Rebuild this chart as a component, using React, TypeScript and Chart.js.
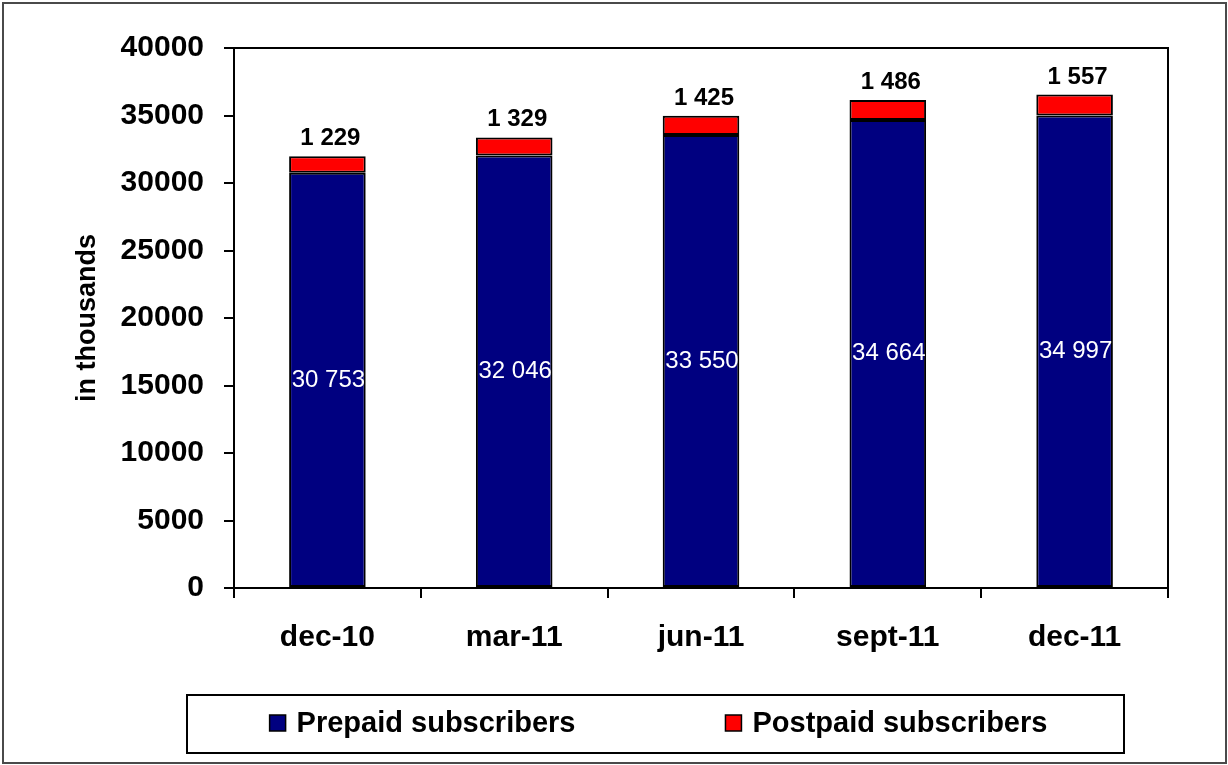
import React, { useEffect, useRef } from "react";
import { Chart, registerables } from "chart.js";

Chart.register(...registerables);

const categories = ["dec-10", "mar-11", "jun-11", "sept-11", "dec-11"];
const prepaid = [30753, 32046, 33550, 34664, 34997];
const postpaid = [1229, 1329, 1425, 1486, 1557];
const seriesNames = ["Prepaid subscribers", "Postpaid subscribers"];
const seriesColors = ["#000080", "#FF0000"];
const yMin = 0;
const yMax = 40000;
const yStep = 5000;

const FONT = "'Liberation Sans', Arial, Helvetica, sans-serif";

const fmt = (v: number) => {
  const s = String(Math.round(v));
  return s.replace(/\B(?=(\d{3})+(?!\d))/g, " ");
};

const decorPlugin = {
  id: "decor",
  afterDraw(chart: any) {
    const ctx = chart.ctx;
    const ca = chart.chartArea;
    ctx.save();
    // outer border
    ctx.strokeStyle = "#4a4a4a";
    ctx.lineWidth = 2;
    ctx.strokeRect(3, 3, chart.width - 5, chart.height - 5);
    // plot border top and right
    ctx.strokeStyle = "#000";
    ctx.lineWidth = 2;
    ctx.beginPath();
    ctx.moveTo(ca.left, ca.top);
    ctx.lineTo(ca.right, ca.top);
    ctx.lineTo(ca.right, ca.bottom);
    ctx.stroke();

    // data labels
    const m0 = chart.getDatasetMeta(0);
    const m1 = chart.getDatasetMeta(1);
    ctx.textAlign = "center";
    ctx.font = `24px ${FONT}`;
    ctx.fillStyle = "#fff";
    ctx.textBaseline = "middle";
    m0.data.forEach((bar: any, i: number) => {
      const yc = (bar.y + bar.base) / 2;
      ctx.fillText(fmt(chart.data.datasets[0].data[i]), bar.x + 1, yc);
    });
    ctx.font = `bold 24px ${FONT}`;
    ctx.fillStyle = "#000";
    ctx.textBaseline = "alphabetic";
    m1.data.forEach((bar: any, i: number) => {
      ctx.fillText(fmt(chart.data.datasets[1].data[i]), bar.x + 3, bar.y - 11);
    });

    // legend
    const lx0 = 187, lx1 = 1124, ly0 = 695, ly1 = 753;
    ctx.lineWidth = 2;
    ctx.strokeStyle = "#000";
    ctx.strokeRect(lx0, ly0, lx1 - lx0, ly1 - ly0);
    ctx.font = `bold 29px ${FONT}`;
    const box = 16, gapText = 11, gapItems = 150;
    const widths = chart.data.datasets.map((d: any) => box + gapText + ctx.measureText(d.label).width);
    const total = widths.reduce((a: number, b: number) => a + b, 0) + gapItems * (widths.length - 1);
    let x = (lx0 + lx1) / 2 - total / 2 + 3;
    const cy = (ly0 + ly1) / 2 - 1;
    chart.data.datasets.forEach((d: any, i: number) => {
      ctx.fillStyle = d.backgroundColor;
      ctx.fillRect(x, cy - box / 2, box, box);
      ctx.lineWidth = 1.5;
      ctx.strokeStyle = "#000";
      ctx.strokeRect(x, cy - box / 2, box, box);
      ctx.fillStyle = "#000";
      ctx.textAlign = "left";
      ctx.textBaseline = "middle";
      ctx.fillText(d.label, x + box + gapText, cy + 1);
      x += widths[i] + gapItems;
    });
    ctx.restore();
  },
};

export default function App() {
  const ref = useRef<HTMLCanvasElement>(null);
  useEffect(() => {
    if (!ref.current) return;
    const chart = new Chart(ref.current, {
      type: "bar",
      data: {
        labels: categories,
        datasets: [
          {
            label: seriesNames[0],
            data: prepaid,
            backgroundColor: seriesColors[0],
            borderColor: "#000",
            borderWidth: 2,
            borderSkipped: false,
            barPercentage: 0.41,
            categoryPercentage: 1,
          },
          {
            label: seriesNames[1],
            data: postpaid,
            backgroundColor: seriesColors[1],
            borderColor: "#000",
            borderWidth: 2,
            borderSkipped: false,
            barPercentage: 0.41,
            categoryPercentage: 1,
          },
        ],
      },
      options: {
        responsive: false,
        animation: false,
        layout: { padding: { top: 48, right: 60, left: 0, bottom: 0 } },
        plugins: { legend: { display: false }, tooltip: { enabled: false } },
        scales: {
          x: {
            stacked: true,
            grid: {
              display: true,
              drawOnChartArea: false,
              offset: true,
              tickLength: 10,
              color: "#000",
              lineWidth: 2,
            },
            border: { display: true, color: "#000", width: 2 },
            ticks: {
              color: "#000",
              padding: 22,
              font: { family: FONT, size: 30, weight: "bold" },
              maxRotation: 0,
            },
            afterFit: (s: any) => {
              s.height = 177;
            },
          },
          y: {
            stacked: true,
            min: yMin,
            max: yMax,
            grid: {
              display: true,
              drawOnChartArea: false,
              tickLength: 10,
              color: "#000",
              lineWidth: 2,
            },
            border: { display: true, color: "#000", width: 2 },
            ticks: {
              stepSize: yStep,
              color: "#000",
              padding: 20,
              font: { family: FONT, size: 30, weight: "bold" },
              callback: (v: any) => String(v),
            },
            title: {
              display: true,
              text: "in thousands",
              color: "#000",
              font: { family: FONT, size: 27, weight: "bold" },
              padding: { top: 71, bottom: 0 },
            },
            afterFit: (s: any) => {
              s.width = 234;
            },
          },
        },
      },
      plugins: [decorPlugin],
    });
    return () => chart.destroy();
  }, []);
  return (
    <div style={{ position: "fixed", left: 0, top: 0, width: 1228, height: 765, background: "#fff" }}>
      <canvas ref={ref} width={1228} height={765} style={{ display: "block" }} />
    </div>
  );
}
